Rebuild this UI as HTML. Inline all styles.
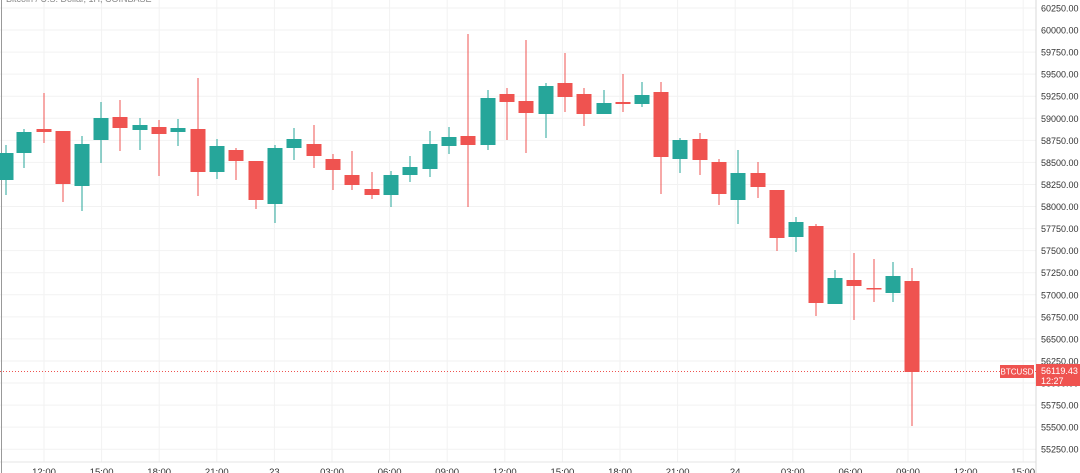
<!DOCTYPE html>
<html><head><meta charset="utf-8"><style>
html,body{margin:0;padding:0;background:#fff;width:1080px;height:473px;overflow:hidden}
svg{display:block}
text{font-family:"Liberation Sans",sans-serif;font-size:9px;fill:#333}
</style></head><body>
<svg id="c" width="1080" height="473" xmlns="http://www.w3.org/2000/svg"></svg>
<script>
var s='';
for(var i=0;i<=20;i++){var p=60250-250*i;var y=8+i*22.06;
s+='<line x1="0" x2="1036" y1="'+y+'" y2="'+y+'" stroke="#f2f2f2" stroke-width="1"/>';
s+='<text x="1041" y="'+(y+3.5)+'">'+p.toFixed(2)+'</text>';}
var tl=["12:00","15:00","18:00","21:00","23","03:00","06:00","09:00","12:00","15:00","18:00","21:00","24","03:00","06:00","09:00","12:00","15:00"];
for(var j=0;j<tl.length;j++){var x=44+j*57.6;
s+='<line x1="'+x+'" x2="'+x+'" y1="0" y2="462" stroke="#f2f2f2"/>';
s+='<text x="'+x+'" y="475" text-anchor="middle" fill="#555" style="font-size:9.5px">'+tl[j]+'</text>';}
s+='<line x1="0" x2="1036" y1="462" y2="462" stroke="#e6e6e6"/>';
s+='<line x1="1036" x2="1036" y1="0" y2="473" stroke="#d8d8d8"/>';
s+='<line x1="1.5" x2="1.5" y1="0" y2="473" stroke="#999"/>';
var G='#26a69a',R='#ef5350';
var c=[[6,'G',153,180,145,195],[24,'G',132,153,129,168],[44,'R',129,132,93,143],[63,'R',131,184,131,202],[82,'G',144,186,136,211],[101,'G',118,140,102,163],[120,'R',117,128,100,151],[140,'G',125,130,118,150],[159,'R',127,134,120,176],[178,'G',128,132,119,146],[198,'R',129,172,78,196],[217,'G',146,172,139,179],[236,'R',150,161,148,180],[256,'R',161,200,161,209],[275,'G',148,204,145,223],[294,'G',139,148,128,160],[314,'R',144,156,125,168],[333,'R',159,170,154,190],[352,'R',175,185,151,190],[372,'R',189,195,172,199],[391,'G',175,195,171,207],[410,'G',167,175,156,182],[430,'G',144,169,131,177],[449,'G',137,146,127,154],[468,'R',136,145,34,207],[488,'G',98,145,90,150],[507,'R',94,102,88,140],[526,'R',101,113,40,153],[546,'G',86,114,83,138],[565,'R',83,97,53,112],[584,'R',94,114,88,126],[604,'G',103,114,90,114],[623,'R',102,104,74,112],[642,'G',95,104,82,107],[661,'R',92,157,82,194],[680,'G',140,159,138,173],[700,'R',139,160,133,175],[719,'R',162,194,159,205],[738,'G',173,200,150,224],[758,'R',173,187,162,198],[777,'R',190,238,190,251],[796,'G',222,237,217,252],[816,'R',226,303,224,316],[835,'G',278,304,270,304],[854,'R',280,286,253,320],[874,'R',288,289.5,259,302],[893,'G',276,293,262,302],[912,'R',281,372,268,426]];
c.forEach(function(d){var col=d[1]=='G'?G:R;
s+='<line x1="'+d[0]+'" x2="'+d[0]+'" y1="'+d[4]+'" y2="'+d[5]+'" stroke="'+col+'" stroke-width="1"/>';
s+='<rect x="'+(d[0]-7.5)+'" y="'+d[2]+'" width="15" height="'+Math.max(1.5,d[3]-d[2])+'" fill="'+col+'"/>';});
s+='<line x1="0" x2="1036" y1="371.5" y2="371.5" stroke="#ef5350" stroke-width="1" stroke-dasharray="1,2"/>';
s+='<rect x="1000" y="365" width="34" height="13" fill="#ef5350"/><text x="1017" y="374.5" text-anchor="middle" style="fill:#fff;font-size:8px">BTCUSD</text>';
s+='<rect x="1036" y="364" width="44" height="22" fill="#ef5350"/><text x="1041" y="374" style="fill:#fff">56119.43</text><text x="1041" y="384" style="fill:#fff">12:27</text>';
s+='<text x="6" y="2" style="fill:#888;font-size:9px">Bitcoin / U.S. Dollar, 1H, COINBASE</text>';
document.getElementById('c').innerHTML=s;
</script>
</body></html>
